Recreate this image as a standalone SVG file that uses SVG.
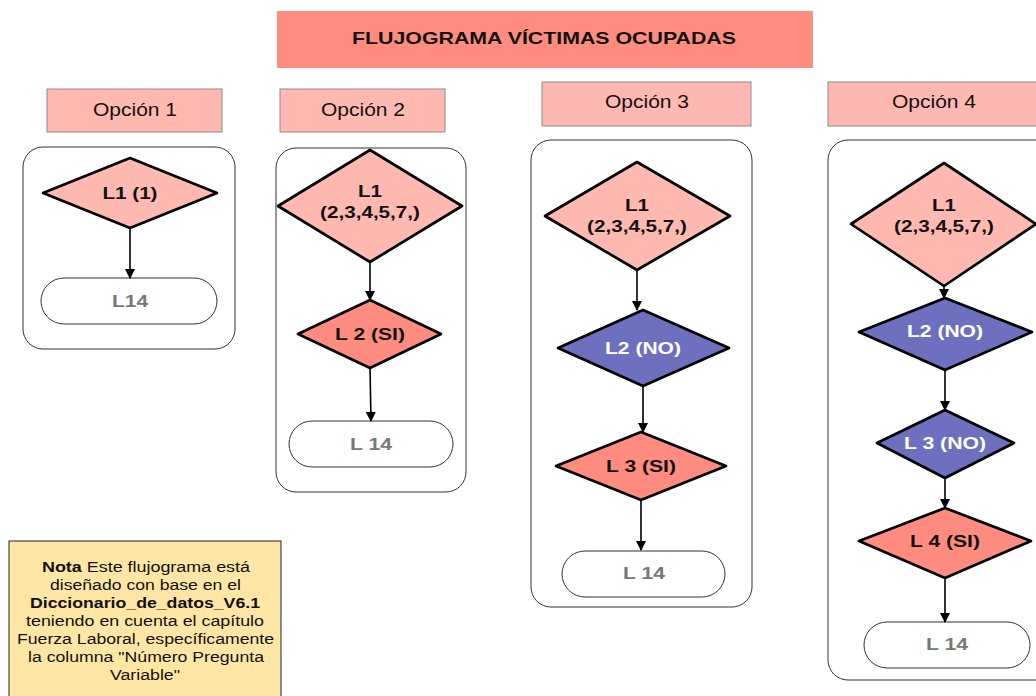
<svg xmlns="http://www.w3.org/2000/svg" width="1036" height="696" viewBox="0 0 1036 696">
<style>
.hdr{fill:#FFB9B0;stroke:#8a8a8a;stroke-width:1}
.box{fill:#fff;stroke:#333;stroke-width:1}
.dia{stroke:#000;stroke-width:2.7;stroke-linejoin:round}
.l1{fill:#FFB9B0}
.si{fill:#FF8C7E}
.no{fill:#6C70BE}
.term{fill:#fff;stroke:#333;stroke-width:1}
text{font-family:"Liberation Sans",Arial,sans-serif;text-anchor:middle}
.ht{font-size:17.5px;fill:#111}
.dt{font-size:16.5px;font-weight:bold;fill:#111}
.dw{font-size:16.5px;font-weight:bold;fill:#fff}
.tt{font-size:16.5px;font-weight:bold;fill:#777}
.conn line{stroke:#000;stroke-width:1.6}
.nt{font-size:14px;fill:#111}
</style>
<defs>
<marker id="ah" markerWidth="10" markerHeight="10" refX="9" refY="5" orient="auto" markerUnits="userSpaceOnUse">
<path d="M0,0 L10,5 L0,10 z" fill="#000"/>
</marker>
</defs>
<rect width="1036" height="696" fill="#fff"/>

<g id="title">
<rect x="277" y="11" width="536" height="57" fill="#FF8C7F"/>
<text x="544" y="43.5" textLength="384" lengthAdjust="spacingAndGlyphs" style="font-size:16.5px;font-weight:bold;fill:#111">FLUJOGRAMA VÍCTIMAS OCUPADAS</text>
</g>

<g id="hdr1"><rect class="hdr" x="47" y="89" width="175" height="43"/><text class="ht" x="135" y="116" textLength="84" lengthAdjust="spacingAndGlyphs">Opción 1</text></g>
<g id="hdr2"><rect class="hdr" x="280" y="89" width="165" height="43"/><text class="ht" x="363" y="116" textLength="84" lengthAdjust="spacingAndGlyphs">Opción 2</text></g>
<g id="hdr3"><rect class="hdr" x="542" y="82" width="209" height="44"/><text class="ht" x="647" y="108" textLength="84" lengthAdjust="spacingAndGlyphs">Opción 3</text></g>
<g id="hdr4"><rect class="hdr" x="828" y="82" width="215" height="44"/><text class="ht" x="934" y="108" textLength="84" lengthAdjust="spacingAndGlyphs">Opción 4</text></g>

<g id="box1"><rect class="box" x="23" y="147" width="212" height="202" rx="20"/></g>
<g id="box2"><rect class="box" x="276" y="148" width="190" height="344" rx="20"/></g>
<g id="box3"><rect class="box" x="531" y="140" width="221" height="467" rx="20"/></g>
<g id="box4"><rect class="box" x="828" y="140" width="230" height="540" rx="20"/></g>

<g id="o1-l1"><polygon class="dia l1" points="130,158 217,193 130,228 43,193"/><text class="dt" x="130" y="199" textLength="55" lengthAdjust="spacingAndGlyphs">L1 (1)</text></g>
<g id="o1-l14"><rect class="term" x="41" y="278" width="176" height="46" rx="23"/><text class="tt" x="130" y="307" textLength="36" lengthAdjust="spacingAndGlyphs">L14</text></g>

<g id="o2-l1"><polygon class="dia l1" points="370,150 462,206 370,262 278,206"/><text class="dt" x="370" y="197" textLength="24" lengthAdjust="spacingAndGlyphs">L1</text><text class="dt" x="370" y="218" textLength="100" lengthAdjust="spacingAndGlyphs">(2,3,4,5,7,)</text></g>
<g id="o2-l2"><polygon class="dia si" points="370,300 441,334 370,368 298,334"/><text class="dt" x="370" y="340" textLength="70" lengthAdjust="spacingAndGlyphs">L 2 (SI)</text></g>
<g id="o2-l14"><rect class="term" x="289" y="421" width="164" height="46" rx="23"/><text class="tt" x="371" y="450" textLength="42" lengthAdjust="spacingAndGlyphs">L 14</text></g>

<g id="o3-l1"><polygon class="dia l1" points="637,162 730,216 637,270 545,216"/><text class="dt" x="637" y="211" textLength="24" lengthAdjust="spacingAndGlyphs">L1</text><text class="dt" x="637" y="232" textLength="100" lengthAdjust="spacingAndGlyphs">(2,3,4,5,7,)</text></g>
<g id="o3-l2"><polygon class="dia no" points="643,310 729,348 643,386 558,348"/><text class="dw" x="643" y="354" textLength="76" lengthAdjust="spacingAndGlyphs">L2 (NO)</text></g>
<g id="o3-l3"><polygon class="dia si" points="641,432 726,466 641,500 556,466"/><text class="dt" x="641" y="472" textLength="70" lengthAdjust="spacingAndGlyphs">L 3 (SI)</text></g>
<g id="o3-l14"><rect class="term" x="562" y="551" width="163" height="46" rx="23"/><text class="tt" x="644" y="579" textLength="42" lengthAdjust="spacingAndGlyphs">L 14</text></g>

<g id="o4-l1"><polygon class="dia l1" points="944,163 1036,224 944,286 851,224"/><text class="dt" x="944" y="211" textLength="24" lengthAdjust="spacingAndGlyphs">L1</text><text class="dt" x="944" y="232" textLength="100" lengthAdjust="spacingAndGlyphs">(2,3,4,5,7,)</text></g>
<g id="o4-l2"><polygon class="dia no" points="945,298 1032,332 945,370 859,332"/><text class="dw" x="945" y="337" textLength="76" lengthAdjust="spacingAndGlyphs">L2 (NO)</text></g>
<g id="o4-l3"><polygon class="dia no" points="945,410 1014,443 945,478 877,443"/><text class="dw" x="945" y="449" textLength="82" lengthAdjust="spacingAndGlyphs">L 3 (NO)</text></g>
<g id="o4-l4"><polygon class="dia si" points="945,508 1031,541 945,578 859,541"/><text class="dt" x="945" y="547" textLength="70" lengthAdjust="spacingAndGlyphs">L 4 (SI)</text></g>
<g id="o4-l14"><rect class="term" x="864" y="622" width="166" height="46" rx="23"/><text class="tt" x="947" y="650" textLength="42" lengthAdjust="spacingAndGlyphs">L 14</text></g>

<g id="connectors" class="conn">
<line x1="130" y1="228" x2="130" y2="278" marker-end="url(#ah)"/>
<line x1="370" y1="262" x2="370" y2="300" marker-end="url(#ah)"/>
<line x1="370" y1="368" x2="371" y2="421" marker-end="url(#ah)"/>
<line x1="637" y1="270" x2="637" y2="310" marker-end="url(#ah)"/>
<line x1="643" y1="386" x2="643" y2="432" marker-end="url(#ah)"/>
<line x1="641" y1="500" x2="641" y2="550" marker-end="url(#ah)"/>
<line x1="944" y1="286" x2="944" y2="298" marker-end="url(#ah)"/>
<line x1="945" y1="370" x2="945" y2="410" marker-end="url(#ah)"/>
<line x1="945" y1="478" x2="945" y2="508" marker-end="url(#ah)"/>
<line x1="945" y1="578" x2="945" y2="622" marker-end="url(#ah)"/>
</g>

<g id="note">
<rect x="9" y="541" width="272" height="170" fill="#FFE6A4" stroke="#222" stroke-width="1"/>
<text class="nt" x="146" y="572" textLength="208" lengthAdjust="spacingAndGlyphs"><tspan font-weight="bold">Nota</tspan> Este flujograma está</text>
<text class="nt" x="145.5" y="590" textLength="191" lengthAdjust="spacingAndGlyphs">diseñado con base en el</text>
<text class="nt" x="145" y="608" font-weight="bold" textLength="230" lengthAdjust="spacingAndGlyphs">Diccionario_de_datos_V6.1</text>
<text class="nt" x="145" y="626" textLength="238" lengthAdjust="spacingAndGlyphs">teniendo en cuenta el capítulo</text>
<text class="nt" x="145.5" y="644" textLength="257" lengthAdjust="spacingAndGlyphs">Fuerza Laboral, específicamente</text>
<text class="nt" x="146" y="662" textLength="236" lengthAdjust="spacingAndGlyphs">la columna "Número Pregunta</text>
<text class="nt" x="145" y="680" textLength="70" lengthAdjust="spacingAndGlyphs">Variable"</text>
</g>
</svg>
